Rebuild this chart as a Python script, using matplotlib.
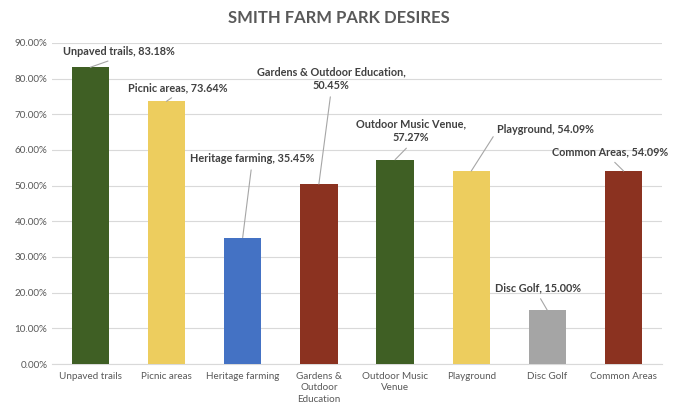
#!/usr/bin/env python3

import matplotlib.pyplot as plt
from matplotlib.ticker import PercentFormatter

categories = ['Unpaved trails', 'Picnic areas', 'Heritage farming',
              'Gardens &\nOutdoor\nEducation', 'Outdoor Music\nVenue',
              'Playground', 'Disc Golf', 'Common Areas']
label_names = ['Unpaved trails', 'Picnic areas', 'Heritage farming',
               'Gardens & Outdoor Education,\n', 'Outdoor Music Venue,\n',
               'Playground', 'Disc Golf', 'Common Areas']
values = [83.18, 73.64, 35.45, 50.45, 57.27, 54.09, 15.00, 54.09]
colors = ['#3F5F24', '#EDCD5E', '#4472C4', '#8B3220',
          '#3F5F24', '#EDCD5E', '#A5A5A5', '#8B3220']

# label positions (category index, percent) for the data callouts
label_pos = [(0.37, 87.5), (1.15, 77.4), (2.12, 57.5), (3.16, 79.9),
             (4.21, 65.3), (5.98, 65.6), (5.87, 21.3), (6.82, 59.4)]
# where the leader line leaves the label box
label_rel = [(0.5, 0), (0.5, 0), (0.5, 0), (0.5, 0),
             (0.5, 0), (0, 0.5), (0.5, 0), (0.5, 0)]

plt.rcParams['font.family'] = ['Lato', 'DejaVu Sans']


# ------------------------------------------------------------------------------
#
def main():

    fig = plt.figure(figsize=(6.78, 4.09), dpi=100)
    ax  = fig.add_axes([0.077, 0.110, 0.899, 0.785])

    x = list(range(len(categories)))
    ax.bar(x, values, width=0.49, color=colors, zorder=3)

    ax.set_xlim(-0.5, len(categories) - 0.5)
    ax.set_ylim(0, 90)
    ax.set_yticks(range(0, 91, 10))
    ax.yaxis.set_major_formatter(PercentFormatter(decimals=2))
    ax.grid(axis='y', color='#D9D9D9', linewidth=0.8, zorder=0)

    for s in ['top', 'right', 'left']:
        ax.spines[s].set_visible(False)
    ax.spines['bottom'].set_color('#D9D9D9')

    ax.set_xticks(x)
    ax.set_xticklabels(categories, fontsize=7.1, color='#595959',
                       linespacing=1.3)
    ax.tick_params(axis='both', length=0, labelsize=7.1, colors='#595959')
    ax.tick_params(axis='x', pad=6)

    for i, (name, v) in enumerate(zip(label_names, values)):
        lx, ly = label_pos[i]
        if name.endswith('\n'):
            txt = '%s%.2f%%' % (name, v)
        else:
            txt = '%s, %.2f%%' % (name, v)
        ax.annotate(txt, xy=(i, v), xytext=(lx, ly),
                    ha='center', va='center', fontsize=7.8,
                    fontweight='bold', color='#404040', linespacing=1.3,
                    arrowprops=dict(arrowstyle='-', color='#A6A6A6',
                                    linewidth=0.8, shrinkA=2, shrinkB=0,
                                    relpos=label_rel[i]),
                    zorder=4)

    fig.text(0.5, 0.956, 'SMITH FARM PARK DESIRES', ha='center',
             va='center', fontsize=12, fontweight='bold', color='#595959')

    fig.savefig('out.png', dpi=100)


# ------------------------------------------------------------------------------
#
if __name__ == '__main__':

    main()
